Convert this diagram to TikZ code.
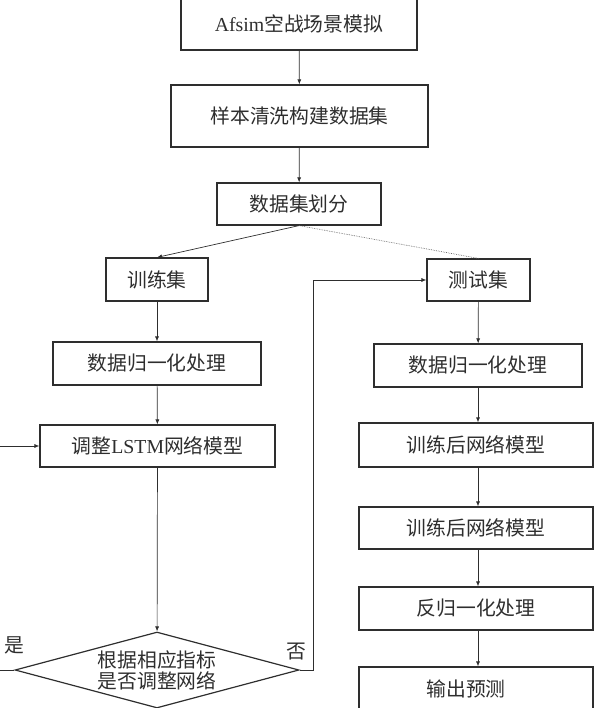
\documentclass[tikz,border=0pt]{standalone}
\usepackage{fontspec}
\setmainfont{Noto Sans CJK SC}
\newfontfamily\latfont{Liberation Serif}
\usetikzlibrary{arrows.meta,shapes.geometric}
\definecolor{ink}{HTML}{2E2E2E}
\tikzset{
	box/.style={draw=ink, line width=1.2pt, text=ink, minimum height=43pt, inner sep=0pt,
		font=\fontsize{19.8}{21}\selectfont},
	arr/.style={draw=ink, line width=0.7pt, -{Latex[length=5pt,width=4pt]}},
	lbl/.style={text=ink, inner sep=0pt, font=\fontsize{19.8}{21}\selectfont}
}
\begin{document}
\begin{tikzpicture}[x=1pt,y=-1pt]
		\useasboundingbox (0,0) rectangle (594,708);
		\clip (0,0) rectangle (594,708);
		\node[box, minimum width=236pt, minimum height=52pt] (scene) at (299,24) {{\latfont Afsim}空战场景模拟};
		\node[box, minimum width=257pt, minimum height=62pt] (clean) at (299.5,116) {样本清洗构建数据集};
		\node[box, minimum width=164pt, minimum height=42pt] (split) at (299,204) {数据集划分};
		\node[box, minimum width=102pt] (train) at (157,279.5) {训练集};
		\node[box, minimum width=208pt] (trnorm) at (157,363.5) {数据归一化处理};
		\node[box, minimum width=235pt, minimum height=42pt] (tune) at (157.5,446) {调整{\latfont LSTM}网络模型};
		\node[draw=ink, line width=1.2pt, text=ink, diamond, aspect=3.74, minimum width=284pt,
			minimum height=76pt, inner sep=0pt, align=center,
			font=\fontsize{19.8}{21}\selectfont] (check) at (157,670) {根据相应指标\\是否调整网络};
		\node[box, minimum width=103pt, minimum height=42pt] (test) at (478.5,280) {测试集};
		\node[box, minimum width=208pt] (tenorm) at (478,365.5) {数据归一化处理};
		\node[box, minimum width=234pt, minimum height=44pt] (net1) at (476,445) {训练后网络模型};
		\node[box, minimum width=234pt, minimum height=42pt] (net2) at (476,528) {训练后网络模型};
		\node[box, minimum width=234pt] (denorm) at (476,608.5) {反归一化处理};
		\node[box, minimum width=234pt] (output) at (476,688.5) {输出预测\phantom{值}};
		\node[lbl] (yes) at (14,645) {是};
		\node[lbl] (no) at (296,652) {否};
		\coordinate (back) at (-20,670);
		\coordinate (up) at (313,670);
		\draw[arr] (scene) -- (clean);
		\draw[arr] (clean) -- (split);
		\draw[arr] (split.south) -- (train.north);
		\draw[draw=ink!70, line width=0.7pt, densely dotted] (split.south) -- (test.north);
		\draw[arr] (train) -- (trnorm);
		\draw[arr] (trnorm) -- (tune);
		\draw[arr] (tune) -- (check);
		\draw[arr] (check.west) -- (back) |- (tune.west);
		\draw[arr] (check.east) -- (up) |- (test.west);
		\draw[arr] (test) -- (tenorm);
		\draw[arr] (tenorm.south) -- (tenorm.south |- net1.north);
		\draw[arr] (tenorm.south |- net1.south) -- (tenorm.south |- net2.north);
		\draw[arr] (tenorm.south |- net2.south) -- (tenorm.south |- denorm.north);
		\draw[arr] (tenorm.south |- denorm.south) -- (tenorm.south |- output.north);
	\end{tikzpicture}
\end{document}
